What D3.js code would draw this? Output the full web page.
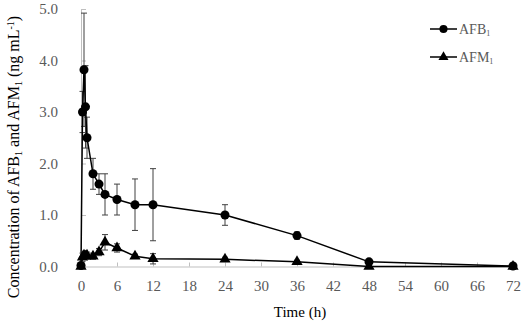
<!DOCTYPE html>
<html>
<head>
<meta charset="utf-8">
<script src="https://cdn.jsdelivr.net/npm/d3@7"></script>
<style>
  body { margin: 0; background: #fff; }
  text { font-family: "Liberation Serif", "Times New Roman", serif; }
</style>
</head>
<body>
<div id="graf"></div>
<script>
// vremena uzorkovanja (h)
const vremena = [0, 0.25, 0.5, 0.75, 1, 2, 3, 4, 6, 9, 12, 24, 36, 48, 72];
// AFB1 koncentracije i SD
const afb1 = [0.02, 3.0, 3.82, 3.1, 2.5, 1.8, 1.6, 1.4, 1.3, 1.2, 1.2, 1.0, 0.6, 0.09, 0.01];
const afb1Sd = [0.02, 0.4, 1.1, 0.8, 0.4, 0.3, 0.2, 0.4, 0.3, 0.5, 0.7, 0.2, 0.07, 0.02, 0];
// AFM1 koncentracije i SD
const afm1 = [0.0, 0.18, 0.22, 0.2, 0.22, 0.2, 0.28, 0.47, 0.36, 0.2, 0.15, 0.14, 0.09, 0.0, 0.0];
const afm1Sd = [0, 0.08, 0.08, 0.05, 0.06, 0.06, 0.07, 0.15, 0.08, 0.04, 0.1, 0.04, 0.03, 0, 0];
const xTicks = [0, 6, 12, 18, 24, 30, 36, 42, 48, 54, 60, 66, 72];
const yTicks = [0, 1, 2, 3, 4, 5];

const dim = { sirina: 526, visina: 324, left: 81, right: 13, top: 9, bottom: 57.5 };
dim.grSirina = dim.sirina - dim.left - dim.right;
dim.grVisina = dim.visina - dim.top - dim.bottom;

const svg = d3.select("#graf").append("svg")
  .attr("width", dim.sirina)
  .attr("height", dim.visina);

const g = svg.append("g")
  .attr("transform", `translate(${dim.left},${dim.top})`);

const x = d3.scaleLinear().domain([0, 72]).range([0, dim.grSirina]);
const y = d3.scaleLinear().domain([0, 5]).range([dim.grVisina, 0]);

// osi
const xOs = g.append("g")
  .attr("transform", `translate(0,${dim.grVisina})`)
  .call(d3.axisBottom(x).tickValues(xTicks).tickSizeInner(-4).tickSizeOuter(0).tickPadding(14));
const yOs = g.append("g")
  .call(d3.axisLeft(y).tickValues(yTicks).tickFormat(d3.format(".1f")).tickSizeInner(-5).tickSizeOuter(0).tickPadding(23));

[xOs, yOs].forEach(os => {
  os.select(".domain").attr("stroke", "#bfbfbf");
  os.selectAll(".tick line").attr("stroke", "#bfbfbf");
  os.selectAll(".tick text")
    .attr("fill", "#595959")
    .style("font-size", "15px")
    .style("font-family", "Liberation Serif");
});

const serije = [
  { ime: "AFB", vrijednosti: afb1, sd: afb1Sd, oblik: d3.symbolCircle, vel: 64 },
  { ime: "AFM", vrijednosti: afm1, sd: afm1Sd, oblik: d3.symbolTriangle, vel: 55 },
];

serije.forEach(s => {
  const podaci = vremena.map((t, i) => ({ t, v: s.vrijednosti[i], sd: s.sd[i] }));

  // error bars
  const eb = g.append("g").attr("stroke", "#404040").attr("stroke-width", 1);
  podaci.filter(d => d.sd > 0).forEach(d => {
    const cx = x(d.t);
    eb.append("line").attr("x1", cx).attr("x2", cx).attr("y1", y(d.v - d.sd)).attr("y2", y(d.v + d.sd));
    eb.append("line").attr("x1", cx - 3).attr("x2", cx + 3).attr("y1", y(d.v + d.sd)).attr("y2", y(d.v + d.sd));
    eb.append("line").attr("x1", cx - 3).attr("x2", cx + 3).attr("y1", y(d.v - d.sd)).attr("y2", y(d.v - d.sd));
  });

  g.append("path")
    .datum(podaci)
    .attr("fill", "none")
    .attr("stroke", "#000")
    .attr("stroke-width", 1.5)
    .attr("d", d3.line().x(d => x(d.t)).y(d => y(d.v)));

  g.selectAll(null)
    .data(podaci)
    .enter()
    .append("path")
    .attr("transform", d => `translate(${x(d.t)},${y(d.v)})`)
    .attr("d", d3.symbol().type(s.oblik).size(s.vel))
    .attr("fill", "#000");
});

// legenda
const leg = svg.append("g");
serije.forEach((s, i) => {
  const ly = 29 + i * 28;
  leg.append("line").attr("x1", 430).attr("x2", 457).attr("y1", ly).attr("y2", ly)
    .attr("stroke", "#000").attr("stroke-width", 1.5);
  leg.append("path").attr("transform", `translate(443.5,${ly})`)
    .attr("d", d3.symbol().type(s.oblik).size(s.vel * 0.8)).attr("fill", "#000");
  const t = leg.append("text").attr("x", 459).attr("y", ly + 5)
    .attr("fill", "#595959").style("font-size", "14px");
  t.append("tspan").text(s.ime);
  t.append("tspan").attr("dy", 2).style("font-size", "8px").text("1");
});

// naslovi osi
svg.append("text")
  .attr("x", 300).attr("y", 317)
  .attr("text-anchor", "middle")
  .style("font-size", "15px")
  .text("Time (h)");

const yNaslov = svg.append("text")
  .attr("transform", "translate(19,157) rotate(-90)")
  .attr("text-anchor", "middle")
  .style("font-size", "16px");
yNaslov.append("tspan").text("Concentration of AFB");
yNaslov.append("tspan").attr("dy", 3).style("font-size", "10px").text("1");
yNaslov.append("tspan").attr("dy", -3).text("  and AFM");
yNaslov.append("tspan").attr("dy", 3).style("font-size", "10px").text("1");
yNaslov.append("tspan").attr("dy", -3).text("  (ng mL");
yNaslov.append("tspan").attr("dy", -5).style("font-size", "10px").text("-1");
yNaslov.append("tspan").attr("dy", 5).text(")");
</script>
</body>
</html>
